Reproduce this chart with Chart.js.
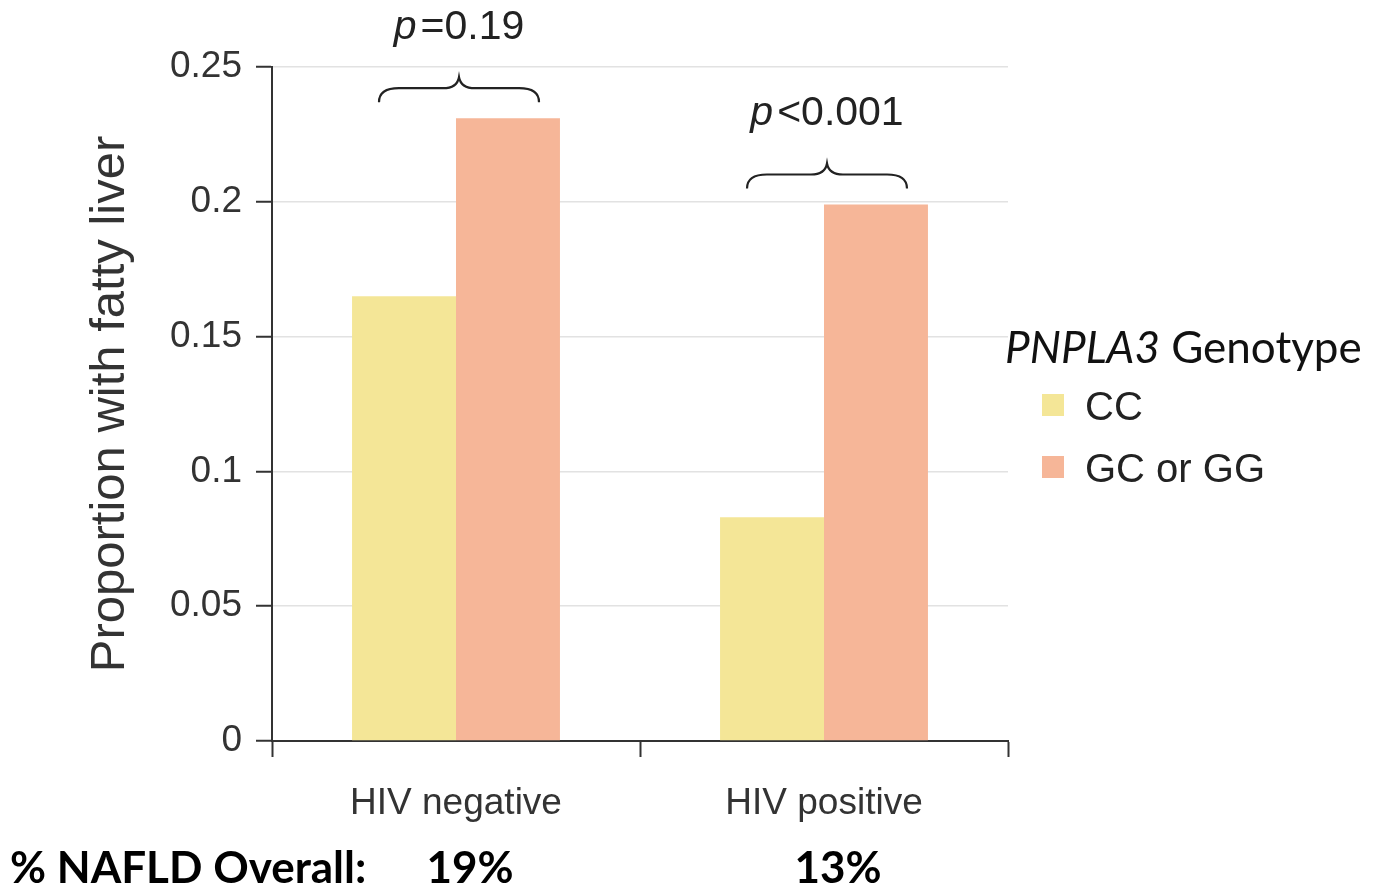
<!DOCTYPE html>
<html>
<head>
<meta charset="utf-8">
<title>PNPLA3 genotype and fatty liver</title>
<script src="https://cdn.jsdelivr.net/npm/chart.js@4.4.0/dist/chart.umd.min.js"></script>
<style>
	body { margin: 0; background: #fff; }
	#wrap { width: 1380px; height: 891px; position: relative; }
</style>
</head>
<body>
<div id="wrap"><canvas id="fattyChart"></canvas></div>
<script>
// values
var groups = ['HIV negative', 'HIV positive'];
var seriesNames = ['CC', 'GC or GG'];
var ccValues = [0.165, 0.083];
var gcValues = [0.231, 0.199];
var yTickLabels = ['0', '0.05', '0.1', '0.15', '0.2', '0.25'];
var pValues = ['=0.19', '<0.001'];
var overallLabel = '% NAFLD Overall:';
var overallPct = ['19%', '13%'];
var legendTitle = ['PNPLA3', ' Genotype'];

var SANS = '"Liberation Sans", Arial, Helvetica, sans-serif';
var CALI = 'Lato, "Open Sans", sans-serif';

function drawBrace(ctx, x0, x1, yEnd, yTip) {
	var xm = (x0 + x1) / 2;
	var yArm = yTip + 11;
	ctx.beginPath();
	ctx.moveTo(x0, yEnd);
	ctx.quadraticCurveTo(x0, yArm, x0 + 20, yArm);
	ctx.lineTo(xm - 16, yArm);
	ctx.quadraticCurveTo(xm - 2, yArm, xm, yTip);
	ctx.quadraticCurveTo(xm + 2, yArm, xm + 16, yArm);
	ctx.lineTo(x1 - 20, yArm);
	ctx.quadraticCurveTo(x1, yArm, x1, yEnd);
	ctx.stroke();
}

var extras = {
	id: 'extras',
	afterDraw: function(chart) {
		var ctx = chart.ctx;
		var xs = chart.scales.x;
		ctx.save();
		ctx.strokeStyle = '#222';
		ctx.lineWidth = 2.2;
		ctx.fillStyle = '#222';
		ctx.textBaseline = 'alphabetic';

		// braces and p values over each group
		for (var i = 0; i < groups.length; i++) {
			var cx = xs.getPixelForValue(i) + 3;
			var barTop = Math.min(chart.getDatasetMeta(0).data[i].y, chart.getDatasetMeta(1).data[i].y);
			var yEnd = barTop - 16;
			var yTip = barTop - 41;
			drawBrace(ctx, cx - 80, cx + 80, yEnd, yTip);

			ctx.font = 'italic 41px ' + SANS;
			var pw = ctx.measureText('p').width;
			ctx.font = '41px ' + SANS;
			var rw = ctx.measureText(pValues[i]).width;
			var x0 = cx - (pw + 4 + rw) / 2;
			var base = yTip - 38;
			ctx.textAlign = 'left';
			ctx.font = 'italic 41px ' + SANS;
			ctx.fillText('p', x0, base);
			ctx.font = '41px ' + SANS;
			ctx.fillText(pValues[i], x0 + pw + 4, base);
		}

		// legend
		ctx.fillStyle = '#111';
		ctx.font = 'italic 44px ' + CALI;
		ctx.fillText(legendTitle[0], 1005, 363);
		var tw = ctx.measureText(legendTitle[0]).width;
		ctx.font = '44px ' + CALI;
		ctx.fillText(legendTitle[1], 1005 + tw, 363);

		ctx.font = '40px ' + SANS;
		for (var k = 0; k < chart.data.datasets.length; k++) {
			var ds = chart.data.datasets[k];
			var ly = 394 + k * 62;
			ctx.fillStyle = ds.backgroundColor;
			ctx.fillRect(1042, ly, 22, 22);
			ctx.fillStyle = '#222';
			ctx.fillText(ds.label, 1085, ly + 26);
		}

		// overall NAFLD line at the bottom
		ctx.fillStyle = '#000';
		ctx.font = 'bold 44px ' + CALI;
		ctx.fillText(overallLabel, 10, 883);
		ctx.textAlign = 'center';
		for (var j = 0; j < overallPct.length; j++) {
			ctx.fillText(overallPct[j], xs.getPixelForValue(j) + 14, 883);
		}
		ctx.restore();
	}
};

Chart.defaults.font.family = SANS;
Chart.defaults.color = '#333';

var ctx = document.getElementById('fattyChart').getContext('2d');
var chart = new Chart(ctx, {
	type: 'bar',
	data: {
		labels: groups,
		datasets: [{
			label: seriesNames[0],
			data: ccValues,
			backgroundColor: '#f4e697',
			categoryPercentage: 0.565,
			barPercentage: 1.0
		}, {
			label: seriesNames[1],
			data: gcValues,
			backgroundColor: '#f6b698',
			categoryPercentage: 0.565,
			barPercentage: 1.0
		}]
	},
	options: {
		responsive: true,
		maintainAspectRatio: false,
		animation: false,
		layout: {
			padding: { left: 80, right: 372, top: 67, bottom: 0 }
		},
		plugins: {
			legend: { display: false },
			tooltip: { enabled: false }
		},
		scales: {
			x: {
				grid: {
					offset: true,
					drawOnChartArea: false,
					drawTicks: true,
					tickLength: 16,
					tickColor: '#333',
					tickWidth: 2
				},
				border: { color: '#333', width: 2 },
				ticks: {
					font: { size: 37 },
					color: '#333',
					padding: 25
				},
				afterFit: function(scale) {
					scale.height = 150;
				}
			},
			y: {
				min: 0,
				max: 0.25,
				grid: {
					color: '#e2e2e2',
					lineWidth: 1.5,
					tickLength: 16,
					tickColor: '#333',
					tickWidth: 2
				},
				border: { color: '#333', width: 2 },
				ticks: {
					stepSize: 0.05,
					font: { size: 37 },
					color: '#333',
					padding: 14,
					callback: function(value, index) {
						return yTickLabels[index];
					}
				},
				title: {
					display: true,
					text: 'Proportion with fatty liver',
					font: { size: 49, lineHeight: 1 },
					color: '#333',
					padding: { top: 6, bottom: 0 }
				},
				afterFit: function(scale) {
					scale.width = 192;
				}
			}
		}
	},
	plugins: [extras]
});
</script>
</body>
</html>
